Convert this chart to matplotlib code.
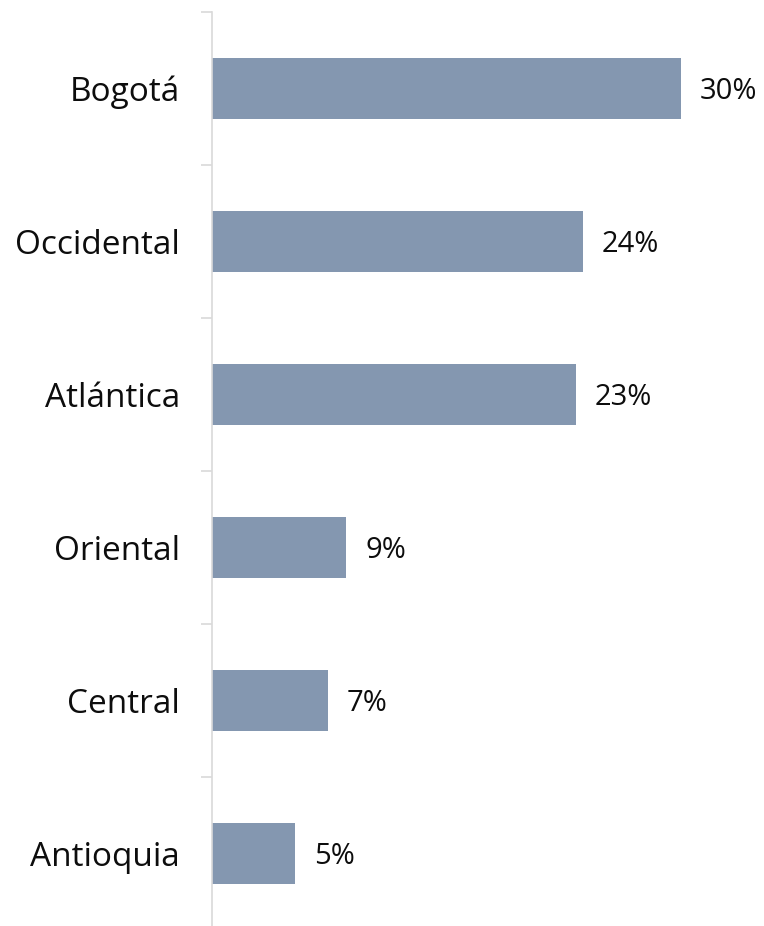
import matplotlib.pyplot as plt

regions = ["Bogotá", "Occidental", "Atlántica", "Oriental", "Central", "Antioquia"]
shares = [30.0, 23.7, 23.3, 8.6, 7.4, 5.3]

plt.rcParams['font.family'] = ['Open Sans', 'DejaVu Sans']

W, H = 764, 926
fig = plt.figure(figsize=(W / 100, H / 100), dpi=100)
left, top, bottom = 212, 12, 930
ax = fig.add_axes([left / W, (H - bottom) / H, (W - left) / W, (bottom - top) / H])

n = len(regions)
ypos = list(range(n))
ax.barh(ypos, shares, height=0.4, color='#8497B0', edgecolor='none')
ax.set_ylim(n - 0.5, -0.5)
ax.set_xlim(0, 35.3)

for y, v in zip(ypos, shares):
    ax.annotate(f"{v:.0f}%", (v, y), xytext=(13.5, -2), textcoords='offset points',
                va='center', ha='left', fontsize=21, color='#0d0d0d')

# category boundaries as ticks
ax.set_yticks([i - 0.5 for i in range(n + 1)], minor=False)
ax.set_yticklabels([])
ax.set_yticks(ypos, minor=True)
ax.set_yticklabels(regions, minor=True, fontsize=24, color='#0d0d0d')
ax.tick_params(axis='y', which='major', length=8, color='#D9D9D9', width=1.2)
ax.tick_params(axis='y', which='minor', length=0, pad=23)

ax.set_xticks([])
for s in ['top', 'right', 'bottom']:
    ax.spines[s].set_visible(False)
ax.spines['left'].set_color('#D9D9D9')
ax.spines['left'].set_linewidth(1.2)

fig.savefig('out.png', dpi=100)
